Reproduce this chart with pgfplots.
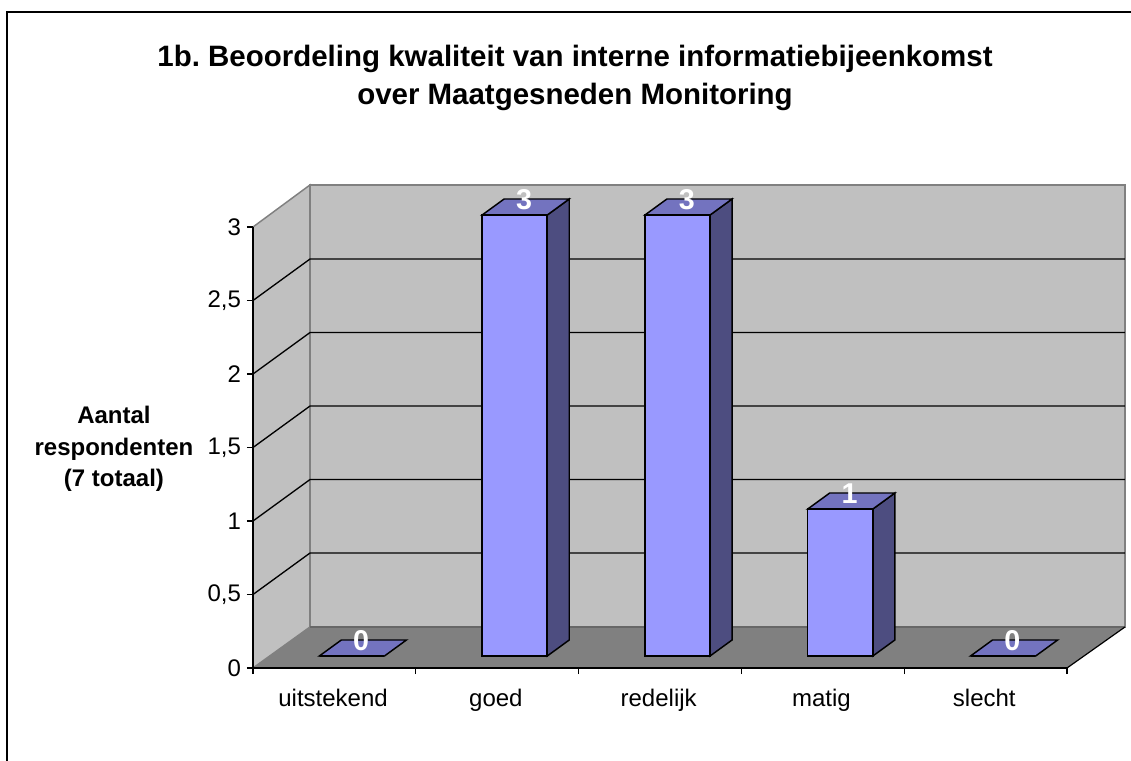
\documentclass[border=0pt]{standalone}
\usepackage{pgfplots}
\pgfplotsset{compat=1.18}
\usepackage{fontspec}
\setmainfont{Liberation Sans}
\definecolor{wall}{HTML}{C0C0C0}
\definecolor{walledge}{HTML}{808080}
\definecolor{floorc}{HTML}{808080}
\definecolor{barfront}{HTML}{9999FF}
\definecolor{bartop}{HTML}{7373BF}
\definecolor{barside}{HTML}{4D4D80}
\begin{document}
\frenchspacing
\begin{tikzpicture}[x=0.75pt,y=0.75pt]
\path[use as bounding box] (-253,-92) rectangle (878,668);
\draw[black,line width=1.5pt] (-245.5,-95) -- (-245.5,656) -- (882,656);
\begin{axis}[
  at={(0,0)}, anchor=origin,
  scale only axis,
  width=610.5pt, height=330.75pt,
  xmin=0, xmax=5, ymin=0, ymax=3,
  clip=false, axis on top,
  axis x line*=bottom, axis y line*=left,
  axis line style={-, black, line width=1.1pt},
  xtick={0.5,1.5,2.5,3.5,4.5},
  xticklabels={uitstekend,goed,redelijk,matig,slecht},
  minor xtick={0,1,2,3,4,5},
  ytick={0,0.5,1,1.5,2,2.5,3},
  major x tick style={draw=none},
  tick align=outside,
  minor x tick style={black,line width=0.9pt},
  minor tick length=4.5pt,
  y tick style={black,line width=0.9pt},
  major tick length=4.5pt,
  tick label style={font=\fontsize{18}{21}\selectfont},
  xticklabel style={yshift=-8pt, xshift=-1pt},
  yticklabel style={xshift=-1pt, /pgf/number format/use comma, /pgf/number format/assume math mode=true},
  title={1b. Beoordeling kwaliteit van interne informatiebijeenkomst\\over Maatgesneden Monitoring},
  title style={at={(rel axis cs:0.3956,1.319)}, anchor=center, align=center, font=\fontsize{22.1}{28.5}\selectfont\bfseries},
  ylabel={Aantal\\respondenten\\(7 totaal)},
  every axis y label/.style={at={(rel axis cs:-0.1708,0.4966)}, anchor=center, align=center, rotate=0, font=\fontsize{18}{23.6}\selectfont\bfseries},
]
% walls and floor
\addplot[fill=wall, draw=walledge, line width=1.1pt] coordinates {(0,0)(0.35,0.279)(0.35,3.286)(0,3)} -- cycle;
\addplot[fill=wall, draw=walledge, line width=1.1pt] coordinates {(0.35,0.279)(5.356,0.279)(5.356,3.286)(0.35,3.286)} -- cycle;
\addplot[fill=floorc, draw=none] coordinates {(0,0)(5,0)(5.356,0.279)(0.35,0.279)} -- cycle;
\addplot[walledge!80!black, line width=1.1pt] coordinates {(0.35,0.279)(5.356,0.279)};
\addplot[black, line width=0.9pt] coordinates {(5,0)(5.356,0.279)};
% gridlines
\addplot[black, line width=1pt, forget plot] coordinates {(0,0.5)(0.35,0.782)(5.356,0.782)};
\addplot[black, line width=1pt, forget plot] coordinates {(0,1)(0.35,1.282)(5.356,1.282)};
\addplot[black, line width=1pt, forget plot] coordinates {(0,1.5)(0.35,1.782)(5.356,1.782)};
\addplot[black, line width=1pt, forget plot] coordinates {(0,2)(0.35,2.282)(5.356,2.282)};
\addplot[black, line width=1pt, forget plot] coordinates {(0,2.5)(0.35,2.782)(5.356,2.782)};
% bar sides
\addplot[fill=barside, draw=black, line width=1.1pt] coordinates {(1.8075,0.0816)(1.9425,0.1905)(1.9425,3.1905)(1.8075,3.0816)} -- cycle;
\addplot[fill=barside, draw=black, line width=1.1pt] coordinates {(2.8075,0.0816)(2.9425,0.1905)(2.9425,3.1905)(2.8075,3.0816)} -- cycle;
\addplot[fill=barside, draw=black, line width=1.1pt] coordinates {(3.8075,0.0816)(3.9425,0.1905)(3.9425,1.1905)(3.8075,1.0816)} -- cycle;
% bar tops
\addplot[fill=bartop, draw=black, line width=1.1pt] coordinates {(0.4075,0.0816)(0.8075,0.0816)(0.9425,0.1905)(0.5425,0.1905)} -- cycle;
\addplot[fill=bartop, draw=black, line width=1.1pt] coordinates {(1.4075,3.0816)(1.8075,3.0816)(1.9425,3.1905)(1.5425,3.1905)} -- cycle;
\addplot[fill=bartop, draw=black, line width=1.1pt] coordinates {(2.4075,3.0816)(2.8075,3.0816)(2.9425,3.1905)(2.5425,3.1905)} -- cycle;
\addplot[fill=bartop, draw=black, line width=1.1pt] coordinates {(3.4075,1.0816)(3.8075,1.0816)(3.9425,1.1905)(3.5425,1.1905)} -- cycle;
\addplot[fill=bartop, draw=black, line width=1.1pt] coordinates {(4.4075,0.0816)(4.8075,0.0816)(4.9425,0.1905)(4.5425,0.1905)} -- cycle;
% bar fronts with values
\addplot[ybar, bar width=0.4, bar shift=0pt, fill=barfront, draw=black, line width=1.1pt,
  xshift=13.1pt, yshift=9pt,
  nodes near coords={\pgfmathprintnumber[assume math mode=true]{\pgfplotspointmeta}},
  nodes near coords style={anchor=center, xshift=7pt, yshift=11.5pt, text=white,
    font=\fontsize{21.5}{24}\selectfont\bfseries},
  ] coordinates {(0.5,0)(1.5,3)(2.5,3)(3.5,1)(4.5,0)};
\end{axis}
\end{tikzpicture}
\end{document}
